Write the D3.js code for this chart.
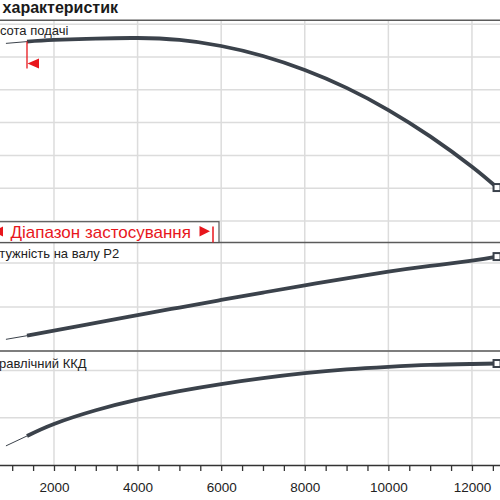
<!DOCTYPE html>
<html>
<head>
<meta charset="utf-8">
<script src="https://cdn.jsdelivr.net/npm/d3@7"></script>
<style>
body { margin: 0; background: #fff; }
svg { display: block; font-family: "Liberation Sans", Arial, sans-serif; }
.grid line { stroke: #dcdcdc; stroke-width: 1.5; }
.sep { stroke: #5b5b5b; stroke-width: 1.6; }
.curve { fill: none; stroke: #3b424b; stroke-linejoin: round; }
.label { font-size: 13px; fill: #222; }
.x.axis path, .x.axis line { stroke: #333; stroke-width: 1.3; }
.x.axis text { font-size: 13.5px; fill: #222; font-family: "Liberation Sans", Arial, sans-serif; }
</style>
</head>
<body>
<div id="chart"></div>
<script>
// flow rate Q
var flowQ = [850, 1354, 2000, 3000, 4000, 5000, 6000, 7000, 8000, 9000, 10000, 11000, 12000, 12600];
// head H, m
var headH = [27.08, 27.35, 27.6, 27.82, 27.9, 27.6, 26.68, 25.16, 23.02, 20.3, 16.92, 12.9, 8.28, 5.1];
// shaft power P2, kW
var powerP2 = [0.506, 0.539, 0.586, 0.656, 0.727, 0.795, 0.864, 0.931, 0.997, 1.061, 1.121, 1.173, 1.221, 1.258];
// hydraulic efficiency, %
var effEta = [8.1, 12.3, 17.4, 23.2, 27.7, 31.3, 34.3, 36.8, 38.9, 40.5, 41.6, 42.4, 42.8, 43.0];

var rangeStartIndex = 1; // start of the application range
var xTickValues = d3.range(500, 12501, 500);
var xGridValues = [2000, 4000, 6000, 8000, 10000, 12000];
var headTicks = [0, 5, 10, 15, 20, 25, 30];
var powerTicks = [0.4, 0.8, 1.2];
var effTicks = [20, 40];

var titleHead = "Криві ";
var titleText = "характеристик";
var rangeText = "Діапазон застосування";
var red = "#e8161c";

function drawCharts(){

    var width = 500, height = 500;

    var svg = d3.select("div#chart")
    .append("svg")
    .attr("width", width)
    .attr("height", height);

    // x scale shared by all three panels
    var x = d3.scaleLinear().domain([0, 12800]).range([-29.6, 505.4]);

    // panels: H, P2, efficiency
    var panels = [
        {name: "Висота подачі", values: headH, ticks: headTicks, top: 20.3, bottom: 242.5, domain: [-3.28, 30.6], labelX: -16, labelY: 35},
        {name: "Потужність на валу  P2", values: powerP2, ticks: powerTicks, top: 242.5, bottom: 351, domain: [0.4, 1.386], labelX: -17, labelY: 257.5},
        {name: "Гідравлічний ККД", values: effEta, ticks: effTicks, top: 351, bottom: 465, domain: [0, 48.3], labelX: -18.5, labelY: 367.5}
    ];

    panels.forEach(function(p) {
        p.y = d3.scaleLinear().domain(p.domain).range([p.bottom, p.top]);
    });

    // horizontal gridlines
    panels.forEach(function(p) {
        svg.append("g")
        .attr("class", "grid")
        .selectAll("line")
        .data(p.ticks)
        .enter().append("line")
        .attr("x1", 0).attr("x2", width)
        .attr("y1", function(d) { return p.y(d); })
        .attr("y2", function(d) { return p.y(d); });
    });

    // vertical gridlines
    svg.append("g")
    .attr("class", "grid")
    .selectAll("line")
    .data(xGridValues)
    .enter().append("line")
    .attr("x1", function(d) { return x(d); })
    .attr("x2", function(d) { return x(d); })
    .attr("y1", panels[0].top)
    .attr("y2", panels[2].bottom);

    // panel separators
    svg.selectAll("line.sep")
    .data([panels[0].top, panels[1].top, panels[2].top])
    .enter().append("line")
    .attr("class", "sep")
    .attr("x1", 0).attr("x2", width)
    .attr("y1", function(d) { return d; })
    .attr("y2", function(d) { return d; });

    // X axis
    var xAxis = d3.axisBottom(x)
    .tickValues(xTickValues)
    .tickSize(6)
    .tickSizeOuter(0)
    .tickPadding(11)
    .tickFormat(function(d) { return d % 2000 === 0 ? d : ""; });

    svg.append("g")
    .attr("class", "x axis")
    .attr("transform", "translate(0," + panels[2].bottom + ")")
    .call(xAxis);

    // panel labels
    panels.forEach(function(p) {
        svg.append("text")
        .attr("class", "label")
        .attr("x", p.labelX)
        .attr("y", p.labelY)
        .text(p.name);
    });

    // curves
    panels.forEach(function(p) {
        var pts = flowQ.map(function(q, i) { return [q, p.values[i]]; });
        var line = d3.line()
        .x(function(d) { return x(d[0]); })
        .y(function(d) { return p.y(d[1]); })
        .curve(d3.curveNatural);

        svg.append("path")
        .attr("class", "curve")
        .attr("stroke-width", 1)
        .attr("d", line(pts.slice(0, rangeStartIndex + 1)));

        svg.append("path")
        .attr("class", "curve")
        .attr("stroke-width", 3.8)
        .attr("d", line(pts.slice(rangeStartIndex)));

        var last = pts[pts.length - 1];
        svg.append("rect")
        .attr("x", x(last[0]) - 3.5)
        .attr("y", p.y(last[1]) - 3.5)
        .attr("width", 7)
        .attr("height", 7)
        .attr("fill", "#fff")
        .attr("stroke", "#3b424b")
        .attr("stroke-width", 2);
    });

    // application range start marker on the head curve
    var hp = panels[0];
    var sx = x(flowQ[rangeStartIndex]);
    var sy = hp.y(headH[rangeStartIndex]);
    svg.append("line")
    .attr("x1", sx).attr("x2", sx)
    .attr("y1", sy).attr("y2", sy + 27)
    .attr("stroke", red)
    .attr("stroke-width", 1.3);
    svg.append("polygon")
    .attr("points", [[sx + 0.5, sy + 22], [sx + 12, sy + 17], [sx + 12, sy + 27]].join(" "))
    .attr("fill", red);

    // application range legend box
    var box = svg.append("g");
    box.append("rect")
    .attr("x", -10).attr("y", 221.7)
    .attr("width", 229).attr("height", hp.bottom - 221.7)
    .attr("fill", "#fff")
    .attr("stroke", "#555")
    .attr("stroke-width", 1.2);
    box.append("polygon")
    .attr("points", "-7,231.5 3,226.5 3,236.5")
    .attr("fill", red);
    box.append("text")
    .attr("x", 10.5)
    .attr("y", 237.5)
    .attr("fill", red)
    .style("font-size", "17px")
    .text(rangeText);
    box.append("polygon")
    .attr("points", "199.5,226 210,231.3 199.5,236.5")
    .attr("fill", red);
    box.append("line")
    .attr("x1", 213).attr("x2", 213)
    .attr("y1", 226.5).attr("y2", hp.bottom)
    .attr("stroke", red)
    .attr("stroke-width", 1.5);

    // title
    var title = svg.append("text")
    .attr("x", 118)
    .attr("y", 12.5)
    .attr("text-anchor", "end")
    .style("font-size", "16px")
    .style("font-weight", "bold")
    .attr("fill", "#1a1a1a");
    title.append("tspan").attr("fill", "#7fb2de").text(titleHead);
    title.append("tspan").text(titleText);
}

drawCharts();
</script>
</body>
</html>
